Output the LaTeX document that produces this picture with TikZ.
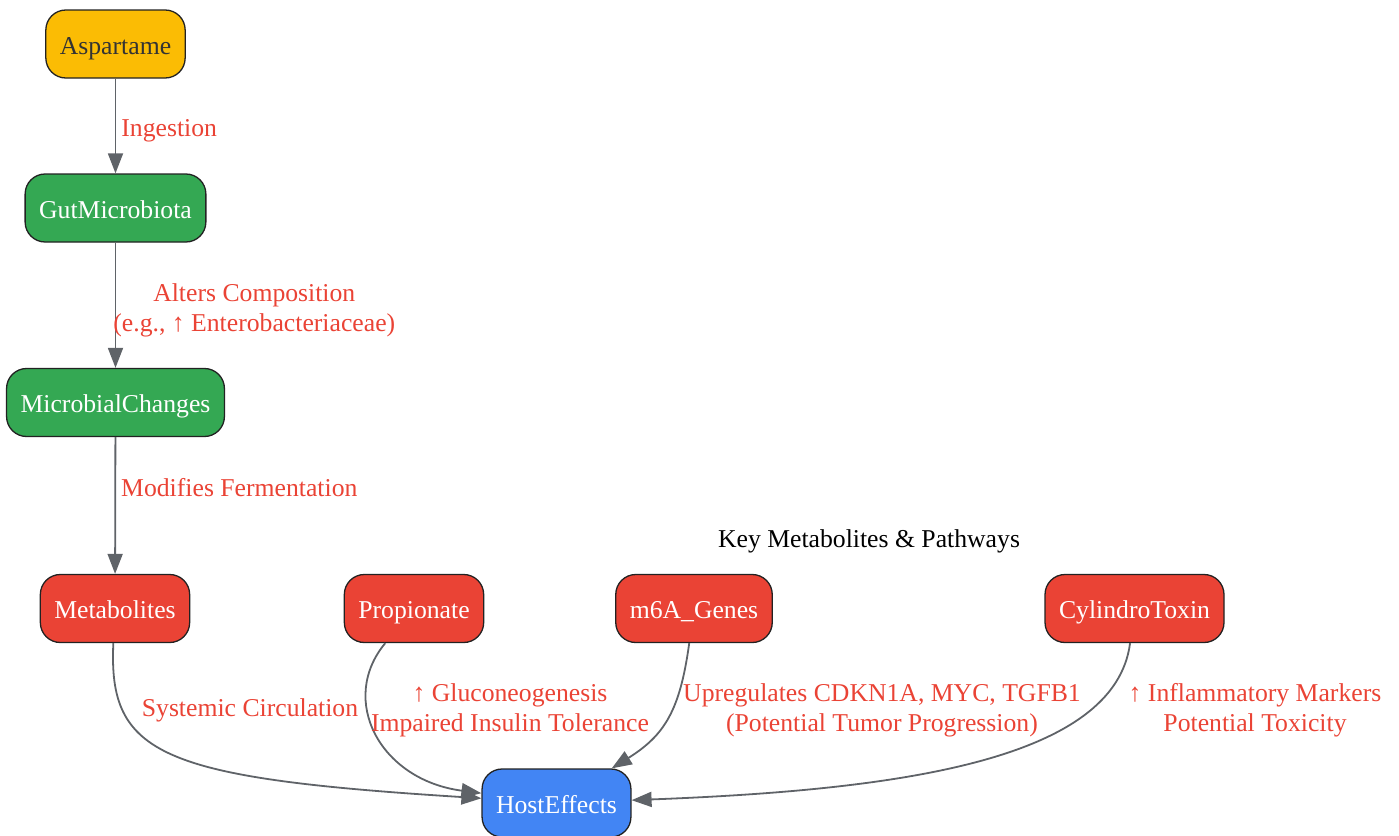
\documentclass[tikz,border=0pt]{standalone}
\usepackage{fontspec}
\setmainfont{Liberation Serif}
\usetikzlibrary{arrows.meta}
\definecolor{gyellow}{HTML}{FBBC04}
\definecolor{ggreen}{HTML}{34A853}
\definecolor{gred}{HTML}{EA4335}
\definecolor{gblue}{HTML}{4285F4}
\definecolor{ggray}{HTML}{5F6368}
\definecolor{boxline}{HTML}{222222}
\tikzset{
    box/.style={draw=boxline,line width=1.3pt,rounded corners=20pt,minimum height=68pt,
        inner xsep=14pt,inner ysep=0pt,text height=22pt,text depth=2pt,
        font=\fontsize{25.7}{30}\selectfont},
    ybox/.style={box,fill=gyellow,text=black!80},
    gbox/.style={box,fill=ggreen,text=white},
    rbox/.style={box,fill=gred,text=white},
    bbox/.style={box,fill=gblue,text=white},
    lbl/.style={text=gred,align=center,inner sep=0pt,font=\fontsize{25.7}{30}\selectfont},
    conn/.style={draw=ggray,line width=1.8pt,-{Triangle[length=20pt,width=15pt]}},
    flow/.style={
        every edge/.style=conn,
    }
}

\begin{document}
\begin{tikzpicture}[x=1pt,y=-1pt,flow]
\useasboundingbox (0,0) rectangle (1399,835);
\node[ybox] (asp)  at (115.5,44)    {Aspartame};
\node[gbox] (gut)  at (115.5,208)   {GutMicrobiota};
\node[gbox] (mic)  at (115.5,402.5) {MicrobialChanges};
\node[rbox] (met)  at (115,608.5)   {Metabolites};
\node[rbox] (prop) at (414,608.5)   {Propionate};
\node[rbox] (mga)  at (694,608.5)   {m6A\_Genes};
\node[rbox] (cyl)  at (1134.5,608.5) {CylindroToxin};
\node[bbox] (host) at (556.5,803)   {HostEffects};
\node[lbl,text=black] (keytitle) at (869,541) {Key Metabolites \& Pathways};
\path
    (asp) edge node[lbl,anchor=west,xshift=5pt,yshift=-5pt] {Ingestion} (gut)
    (gut) edge node[lbl,anchor=west,xshift=-3pt,yshift=-5pt] {Alters Composition\\(e.g., ↑ Enterobacteriaceae)} (mic)
    (mic) edge node[lbl,anchor=west,xshift=5pt,pos=0.36,yshift=-1pt] {Modifies Fermentation} (met)
;
\draw[conn] (met) .. controls (108,755) and (160,778) .. (host);
\draw[conn] (prop) .. controls (338,700) and (380,780) .. (host);
\draw[conn] (mga) .. controls (680,710) and (665,735) .. (host);
\draw[conn] (cyl) .. controls (1115,760) and (900,790) .. (host);
\node[lbl] (lsys)  at (250,710)  {Systemic Circulation};
\node[lbl] (lglu)  at (510,710)  {↑ Gluconeogenesis\\Impaired Insulin Tolerance};
\node[lbl] (lup)   at (882,710)  {Upregulates CDKN1A, MYC, TGFB1\\(Potential Tumor Progression)};
\node[lbl] (linf)  at (1255,710) {↑ Inflammatory Markers\\Potential Toxicity};
\end{tikzpicture}
\end{document}
